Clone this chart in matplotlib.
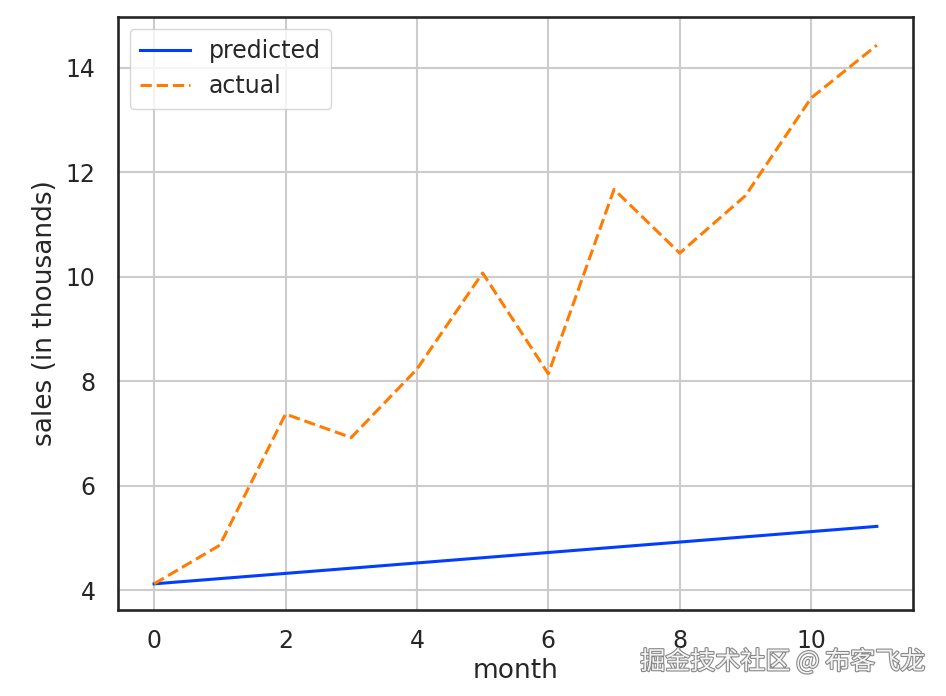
import matplotlib.pyplot as plt
import matplotlib.patheffects as pe

months = list(range(12))
predicted = [4.12, 4.22, 4.32, 4.42, 4.52, 4.62, 4.72, 4.82, 4.92, 5.02, 5.12, 5.22]
actual = [4.12, 4.86, 7.37, 6.92, 8.23, 10.07, 8.14, 11.67, 10.45, 11.55, 13.42, 14.43]

plt.rcParams['font.family'] = ['DejaVu Sans']

fig = plt.figure(figsize=(9.46, 6.96), dpi=100)
ax = fig.add_axes([0.1247, 0.1236, 0.8404, 0.8520])

ax.plot(months, predicted, color='#023eff', linewidth=2.2, label='predicted')
ax.plot(months, actual, color='#ff7c00', linewidth=2.2, linestyle='--', label='actual')

ax.set_xticks([0, 2, 4, 6, 8, 10])
ax.set_yticks([4, 6, 8, 10, 12, 14])
ax.set_xlim(-0.55, 11.55)
ax.set_ylim(3.62, 14.97)
ax.grid(True, color='#cccccc', linewidth=1.5)
ax.set_axisbelow(True)
ax.tick_params(axis='y', length=0, pad=16, colors='#262626', labelsize=17)
ax.tick_params(axis='x', length=0, pad=14, colors='#262626', labelsize=17)
for s in ax.spines.values():
    s.set_color('#262626')
    s.set_linewidth(1.9)

ax.set_xlabel('month', fontsize=19, color='#262626', labelpad=3)
ax.set_ylabel('sales (in thousands)', fontsize=19, color='#262626', labelpad=6)

leg = ax.legend(loc='upper left', fontsize=17, frameon=True, fancybox=True,
                handlelength=2.1, borderpad=0.45, labelspacing=0.45)
leg.get_frame().set_edgecolor('#cccccc')
for t in leg.get_texts():
    t.set_color('#262626')

# watermark
fig.text(0.978, 0.049, '掘金技术社区 @ 布客飞龙', ha='right', va='center',
         fontsize=18, color='#f4f4f4', family=['Noto Sans CJK SC', 'DejaVu Sans'],
         path_effects=[pe.withStroke(linewidth=1.6, foreground='#888888')])

plt.savefig('out.png', dpi=100)
